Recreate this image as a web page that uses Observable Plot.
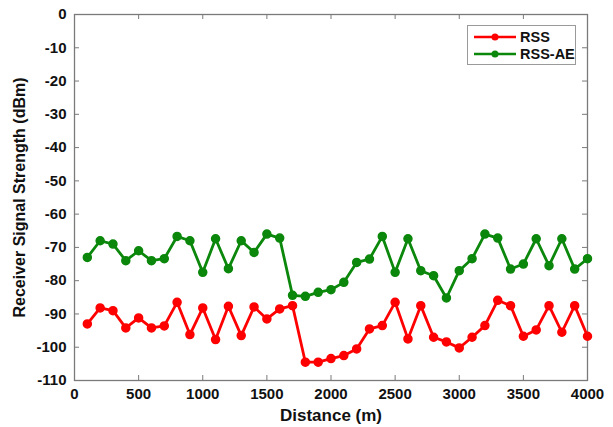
<!DOCTYPE html>
<html>
<head>
<meta charset="utf-8">
<script src="https://cdn.jsdelivr.net/npm/d3@7"></script>
<script src="https://cdn.jsdelivr.net/npm/@observablehq/plot@0.6"></script>
<style>
  html, body { margin: 0; padding: 0; background: #fff; }
  #wrap { position: relative; width: 613px; height: 427px; }
  #legend { position: absolute; left: 467px; top: 25px; width: 107px; height: 38px;
    border: 1px solid #9a9a9a; background: #fff; font-family: "Liberation Sans", Arial, sans-serif;
    font-weight: bold; font-size: 14.5px; color: #111; }
  #legend .row { position: absolute; left: 5px; height: 16px; display: flex; align-items: center; }
  #legend svg { margin-right: 3px; }
  svg text { font-weight: bold; }
</style>
</head>
<body>
<div id="wrap"><div id="legend"></div></div>
<script>
const distance = [100,200,300,400,500,600,700,800,900,1000,1100,1200,1300,1400,1500,1600,1700,1800,1900,2000,
  2100,2200,2300,2400,2500,2600,2700,2800,2900,3000,3100,3200,3300,3400,3500,3600,3700,3800,3900,4000];
const rss = [-93,-88.2,-89,-94.2,-91.2,-94.2,-93.6,-86.5,-96.2,-88.2,-97.7,-87.7,-96.5,
  -87.9,-91.5,-88.5,-87.5,-104.5,-104.5,-103.4,-102.5,-100.5,-94.5,-93.5,-86.5,-97.5,
  -87.5,-97,-98.4,-100.2,-97,-93.5,-85.9,-87.5,-96.7,-94.8,-87.5,-95.5,-87.5,-96.7];
const rssAE = [-73,-68,-69,-74,-71,-74,-73.4,-66.7,-68,-77.5,-67.4,-76.4,-68,
  -71.5,-66,-67.2,-84.4,-84.7,-83.5,-82.7,-80.5,-74.5,-73.5,-66.7,-77.5,-67.4,
  -77,-78.5,-85.2,-77,-73.4,-66,-67.2,-76.5,-75,-67.4,-75.5,-67.4,-76.5,-73.4];
const seriesNames = ["RSS", "RSS-AE"];
const seriesColors = ["#ff0000", "#0b870b"];
const xTicks = [0,500,1000,1500,2000,2500,3000,3500,4000];
const yTicks = [0,-10,-20,-30,-40,-50,-60,-70,-80,-90,-100,-110];
const xLabel = "Distance (m)";
const yLabel = "Receiver Signal Strength (dBm)";

const data = [];
distance.forEach((d, i) => {
  data.push({series: seriesNames[0], x: d, y: rss[i]});
  data.push({series: seriesNames[1], x: d, y: rssAE[i]});
});

const font = "'Liberation Sans', Arial, sans-serif";
const fmt = d => String(d);
const chart = Plot.plot({
  width: 613, height: 427,
  marginLeft: 74, marginRight: 26, marginTop: 14, marginBottom: 47,
  style: {fontFamily: font, fontWeight: "bold", fontSize: "15px", color: "#111", background: "#fff"},
  x: {domain: [0, 4000]},
  y: {domain: [-110, 0]},
  color: {domain: seriesNames, range: seriesColors},
  marks: [
    Plot.frame({stroke: "#7a7a7a", strokeWidth: 1.3}),
    Plot.axisX({ticks: xTicks, tickFormat: fmt, tickSize: 0, tickPadding: 8, fontSize: 15, label: null}),
    Plot.axisX({ticks: [], label: xLabel, labelAnchor: "center", labelArrow: "none", labelOffset: 40, fontSize: 17}),
    Plot.axisY({ticks: yTicks, tickFormat: fmt, tickSize: 0, tickPadding: 8, fontSize: 15, label: null}),
    Plot.axisY({ticks: [], label: yLabel, labelAnchor: "center", labelArrow: "none", labelOffset: 61, fontSize: 16}),
    Plot.ruleX(xTicks, {x: d => d, y1: -110, y2: -110, insetBottom: 5, stroke: "#7a7a7a"}),
    Plot.ruleX(xTicks, {x: d => d, y1: 0, y2: 0, insetTop: 5, stroke: "#7a7a7a"}),
    Plot.ruleY(yTicks, {y: d => d, x1: 0, x2: 0, insetRight: -5, stroke: "#7a7a7a"}),
    Plot.ruleY(yTicks, {y: d => d, x1: 4000, x2: 4000, insetLeft: -5, stroke: "#7a7a7a"}),
    Plot.line(data, {x: "x", y: "y", z: "series", stroke: "series", strokeWidth: 2.8}),
    Plot.dot(data, {x: "x", y: "y", fill: "series", stroke: "series", r: 4})
  ]
});
const wrap = document.getElementById("wrap");
wrap.insertBefore(chart, wrap.firstChild);
chart.style.display = "block";

const legend = document.getElementById("legend");
seriesNames.forEach((name, i) => {
  const row = document.createElement("div");
  row.className = "row";
  row.style.top = (i === 0 ? 3 : 20) + "px";
  row.innerHTML = `<svg width="44" height="10"><line x1="1" x2="43" y1="5" y2="5" stroke="${seriesColors[i]}" stroke-width="2.6"/><circle cx="22" cy="5" r="3.5" fill="${seriesColors[i]}"/></svg><span>${name}</span>`;
  legend.appendChild(row);
});
</script>
</body>
</html>
